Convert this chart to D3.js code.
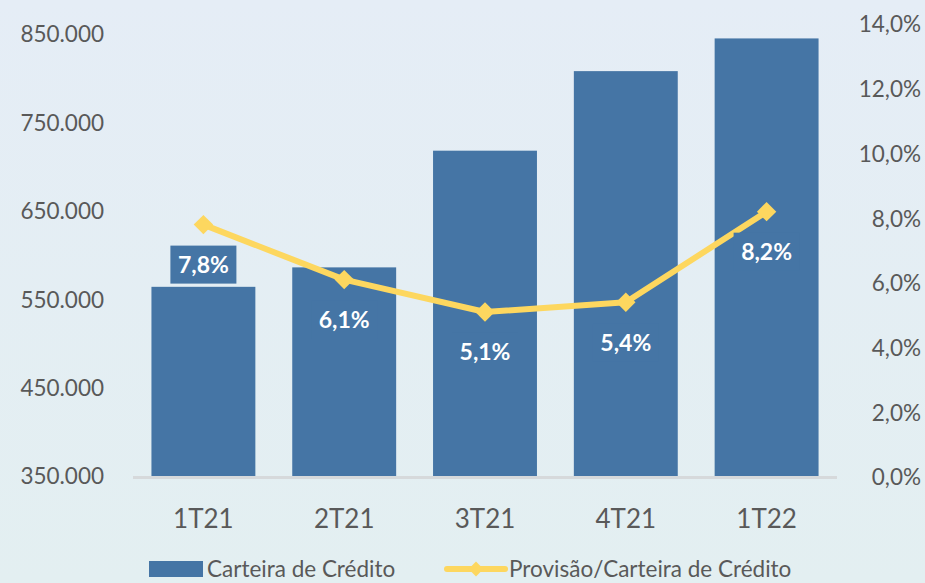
<!DOCTYPE html>
<html>
<head>
<meta charset="utf-8">
<script src="https://cdn.jsdelivr.net/npm/d3@7"></script>
<style>
  html, body { margin: 0; padding: 0; }
  body { width: 925px; height: 583px; overflow: hidden; }
  text { font-family: Lato, "Open Sans", sans-serif; }
</style>
</head>
<body>
<svg id="chart" width="925" height="583"></svg>
<script>
// values
const quarters = ["1T21", "2T21", "3T21", "4T21", "1T22"]
const carteira = [564000, 586000, 718000, 808000, 845000]
const provisao = [7.8, 6.1, 5.1, 5.4, 8.2]
const leftTicks = [350000, 450000, 550000, 650000, 750000, 850000]
const rightTicks = [0, 2, 4, 6, 8, 10, 12, 14]
const legendNames = ["Carteira de Crédito", "Provisão/Carteira de Crédito"]

const barColor = "#4575a5"
const lineColor = "#fdd75f"
const tickColor = "#595959"

const svg = d3.select("#chart")

// background gradient
const defs = svg.append("defs")
const grad = defs.append("linearGradient").attr("id", "bg")
    .attr("x1", 0).attr("y1", 0).attr("x2", 0).attr("y2", 1)
grad.append("stop").attr("offset", "0%").attr("stop-color", "#e5edf6")
grad.append("stop").attr("offset", "100%").attr("stop-color", "#e3eff1")
svg.append("rect").attr("width", 925).attr("height", 583).attr("fill", "url(#bg)")

const x = d3.scaleBand().domain(quarters).range([133, 837]).paddingInner(0.262).paddingOuter(0.131)
const yL = d3.scaleLinear().domain([350000, 850000]).range([476, 34])
const yR = d3.scaleLinear().domain([0, 14]).range([477, 24])

const fmtL = d => d3.format(",.0f")(d).replace(/,/g, ".")
const fmtR = d => d.toFixed(1).replace(".", ",") + "%"

// left axis
const axL = svg.append("g").attr("transform", "translate(104,0)")
    .call(d3.axisLeft(yL).tickValues(leftTicks).tickFormat(fmtL).tickSize(0).tickPadding(0))
axL.select(".domain").remove()
axL.selectAll("text").attr("fill", tickColor).style("font-size", "22.5px").attr("dy", "0.35em")

// right axis
const axR = svg.append("g").attr("transform", "translate(921,0)")
    .call(d3.axisLeft(yR).tickValues(rightTicks).tickFormat(fmtR).tickSize(0).tickPadding(0))
axR.select(".domain").remove()
axR.selectAll("text").attr("fill", tickColor).style("font-size", "22.5px").attr("dy", "0.35em")

// bars
svg.append("g").selectAll("rect").data(quarters).join("rect")
    .attr("x", d => x(d))
    .attr("width", x.bandwidth())
    .attr("y", (d, i) => yL(carteira[i]))
    .attr("height", (d, i) => yL(350000) - yL(carteira[i]))
    .attr("fill", barColor)

// baseline
svg.append("line")
    .attr("x1", 133).attr("x2", 837)
    .attr("y1", yL(350000) + 1.5).attr("y2", yL(350000) + 1.5)
    .attr("stroke", "#d6d9db").attr("stroke-width", 3)

// category axis
const axB = svg.append("g").attr("transform", "translate(0,519)")
    .call(d3.axisBottom(x).tickSize(0).tickPadding(0))
axB.select(".domain").remove()
axB.selectAll("text").attr("fill", tickColor).style("font-size", "26px").attr("dy", "0.35em")

// line
const cx = d => x(d) + x.bandwidth() / 2
const pts = quarters.map((q, i) => [cx(q), yR(provisao[i])])
svg.append("path")
    .attr("d", d3.line()(pts))
    .attr("fill", "none")
    .attr("stroke", lineColor)
    .attr("stroke-width", 6)
    .attr("stroke-linejoin", "round")

const diamond = d3.symbol().type(d3.symbolDiamond2).size(240)
svg.append("g").selectAll("path").data(pts).join("path")
    .attr("transform", d => `translate(${d[0]},${d[1]})`)
    .attr("d", diamond)
    .attr("fill", lineColor)

// data labels
const lab = svg.append("g").selectAll("g").data(pts).join("g")
    .attr("transform", d => `translate(${d[0]},${d[1] + 40})`)
lab.append("rect")
    .attr("x", -33).attr("y", -19).attr("width", 66).attr("height", 38)
    .attr("fill", barColor)
lab.append("text")
    .attr("text-anchor", "middle").attr("dy", "0.36em")
    .attr("fill", "#ffffff").style("font-size", "23px").style("font-weight", "bold")
    .text((d, i) => fmtR(provisao[i]))

// legend
const ly = 569
const leg = svg.append("g")
leg.append("rect").attr("x", 149).attr("y", ly - 8).attr("width", 54).attr("height", 16).attr("fill", barColor)
leg.append("text").attr("x", 207).attr("y", ly).attr("dy", "0.35em")
    .attr("fill", tickColor).style("font-size", "22.5px").text(legendNames[0])
leg.append("line").attr("x1", 447).attr("x2", 505).attr("y1", ly).attr("y2", ly)
    .attr("stroke", lineColor).attr("stroke-width", 6).attr("stroke-linecap", "round")
leg.append("path").attr("transform", `translate(476,${ly})`)
    .attr("d", d3.symbol().type(d3.symbolDiamond2).size(140)).attr("fill", lineColor)
leg.append("text").attr("x", 509).attr("y", ly).attr("dy", "0.35em")
    .attr("fill", tickColor).style("font-size", "22.5px").text(legendNames[1])
</script>
</body>
</html>
